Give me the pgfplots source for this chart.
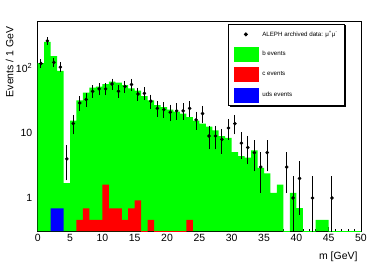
\documentclass[border=0pt]{standalone}
\usepackage{pgfplots}
\pgfplotsset{compat=1.18}
\usepackage{pgfplotstable}
\usepackage{fontspec}
\setmainfont{Liberation Sans}
\definecolor{hgreen}{RGB}{0,255,0}
\definecolor{hred}{RGB}{255,0,0}
\definecolor{hblue}{RGB}{0,0,255}

% b events (bin lower edge, content); last row closes the interval
\pgfplotstableread{
x y
0 120
1 255
2 153
3 91
4 1.7
5 15.5
6 32
7 42
8 50
9 52
10 57
11 62
12 60
13 55
14 49
15 45
16 37
17 32
18 27
19 25
20 23
21 21.5
22 20
23 17.6
24 15.5
25 14
26 12.6
27 11
28 9
29 8.4
30 5.1
31 4.4
32 4.2
33 5.4
34 2.9
35 2.4
36 1.2
37 1.6
38 0.001
39 1.2
40 0.7
41 0.001
42 0.001
43 0.46
44 0.46
45 0.001
46 0.001
47 0.001
48 0.001
49 0.001
50 0.001
}\bevents

\pgfplotstableread{
x y
6 0.46
7 0.69
8 0.46
9 0.46
10 1.61
11 0.69
12 0.69
13 0.46
14 0.69
15 0.92
16 0.001
17 0.46
18 0.001
19 0.001
20 0.001
21 0.001
22 0.001
23 0.46
24 0.001
}\cevents

\pgfplotstableread{
x y
2 0.69
3 0.69
4 0.001
}\udsevents

\pgfplotstableread{
x y ep em
0.5 118 10.86 10.86
1.5 263 16.22 16.22
2.5 123 11.09 11.09
3.5 104 10.2 10.2
4.5 4 2 2
5.5 14 3.74 3.74
6.5 29 5.39 5.39
7.5 33 5.74 5.74
8.5 44 6.63 6.63
9.5 48 6.93 6.93
10.5 48 6.93 6.93
11.5 57 7.55 7.55
12.5 44 6.63 6.63
13.5 52 7.21 7.21
14.5 56 7.48 7.48
15.5 40 6.32 6.32
16.5 41 6.40 6.40
17.5 31 5.57 5.57
18.5 24 4.90 4.90
19.5 23 4.80 4.80
20.5 21 4.58 4.58
21.5 22 4.69 4.69
22.5 22 4.69 4.69
23.5 24 4.90 4.90
24.5 16 4 4
25.5 20 4.47 4.47
26.5 9 3 3
27.5 9 3 3
28.5 8 2.83 2.83
29.5 12 3.46 3.46
30.5 14 3.74 3.74
31.5 7 2.65 2.65
32.5 6 2.45 2.45
33.5 5 2.24 2.24
34.5 3 1.73 1.73
35.5 5 2.24 2.24
38.5 3 1.73 1.73
39.5 1 1 0.999
40.5 2 1.41 1.41
42.5 1 1 0.999
45.5 1 1 0.999
}\data

\begin{document}
\begin{tikzpicture}
\path[use as bounding box] (-37.7bp,-39bp) rectangle (336.3bp,231bp);
\begin{axis}[
  scale only axis, width=323.3bp, height=209.3bp,
  at={(0,0)}, anchor=south west,
  xmin=0, xmax=50, ymode=log, ymin=0.31, ymax=520,
  log origin y=infty,
  axis line style={line width=0.8bp},
  xtick={0,5,...,50}, minor x tick num=4,
  ytick={1,10,100}, yticklabels={1,10,10\textsuperscript{2}},
  tick align=inside, tick pos=left,
  major tick length=4bp, minor tick length=2.5bp,
  tick style={black, line width=0.6bp},
  ticklabel style={font=\fontsize{10.5}{12}\selectfont},
  yticklabel style={xshift=-2bp},
  /pgf/number format/assume math mode=true,
  xlabel={m [GeV]},
  xlabel style={at={(axis description cs:1,0)}, anchor=base east, yshift=-28.5bp, font=\fontsize{10.5}{12}\selectfont},
  ylabel={Events / 1 GeV},
  ylabel style={at={(axis description cs:-0.0866,0.993)}, anchor=east, font=\fontsize{10.5}{12}\selectfont},
  legend style={name=leg, at={(axis description cs:0.589,0.989)}, anchor=north west,
    draw=black, line width=0.8bp, fill=white,
    font=\fontsize{6.2}{7}\selectfont, inner xsep=5bp, inner ysep=3bp,
    row sep=5.5bp, column sep=2bp, cells={anchor=west},
    column 2/.style={nodes={text width=88bp}}},
]
\addlegendimage{legend image code/.code={\path[draw=none,fill=none] (0bp,-7bp) rectangle (24bp,7bp); \fill[black] (12bp,0bp) circle (1.6bp);}}
\addlegendentry{ALEPH archived data: μ\textsuperscript{+}μ\textsuperscript{-}}
\addlegendimage{legend image code/.code={\fill[hgreen] (0bp,-7bp) rectangle (24bp,7bp);}}
\addlegendentry{b events}
\addlegendimage{legend image code/.code={\fill[hred] (0bp,-7bp) rectangle (24bp,7bp);}}
\addlegendentry{c events}
\addlegendimage{legend image code/.code={\fill[hblue] (0bp,-7bp) rectangle (24bp,7bp);}}
\addlegendentry{uds events}

\addplot[forget plot, ybar interval, fill=hgreen, draw=none] table[x=x,y=y] {\bevents};
\addplot[forget plot, ybar interval, fill=hred, draw=none] table[x=x,y=y] {\cevents};
\addplot[forget plot, ybar interval, fill=hblue, draw=none] table[x=x,y=y] {\udsevents};
\addplot[forget plot, only marks, mark=*, mark size=1.6bp, black,
  error bars/.cd, y dir=both, y explicit,
  error bar style={line width=1bp, black},
  error mark options={mark size=2bp, line width=1bp, black}]
  table[x=x, y=y, y error plus=ep, y error minus=em] {\data};
\end{axis}
\fill[black] ([xshift=1.4bp,yshift=-1.4bp]leg.south west) rectangle ([xshift=1.4bp]leg.south east);
\fill[black] ([yshift=-1.4bp]leg.north east) rectangle ([xshift=1.4bp,yshift=-1.4bp]leg.south east);
\end{tikzpicture}
\end{document}
